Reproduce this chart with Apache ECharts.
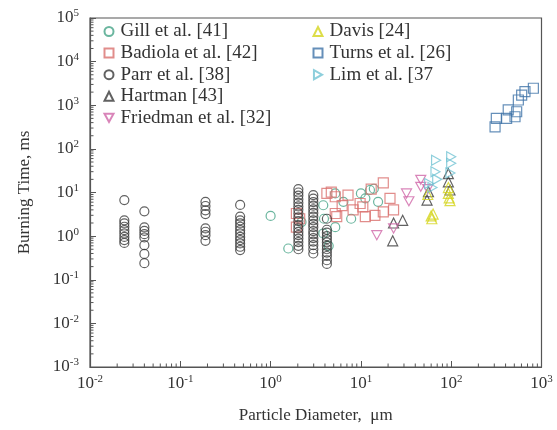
<!DOCTYPE html>
<html>
<head>
<meta charset="utf-8">
<script src="https://cdn.jsdelivr.net/npm/echarts@6/dist/echarts.min.js"></script>
<style>html,body{margin:0;padding:0;background:#fff}#c{width:557px;height:430px}</style>
</head>
<body>
<div id="c"></div>
<script>
// ---- data (particle diameter in um, burning time in ms) ----
const xExponents = [-2, -1, 0, 1, 2, 3];
const yExponents = [-3, -2, -1, 0, 1, 2, 3, 4, 5];
const seriesNames = ['Gill et al. [41]', 'Badiola et al. [42]', 'Parr et al. [38]', 'Hartman [43]', 'Friedman et al. [32]', 'Davis [24]', 'Turns et al. [26]', 'Lim et al. [37'];

const gill = [[1.0,2.9],[1.57,0.52],[2.2,2.1],[3.83,5.1],[3.9,2.5],[3.83,1.15],[5.2,9.5],[5.2,1.6],[6.4,6.1],[7.8,2.5],[10,9.5],[12.6,11.4],[13.9,12.2],[15.5,6.1],[11.2,7.3],[4.4,0.6]];
const badiola = [[1.93,3.3],[1.93,1.6],[2.1,2.5],[4.2,9.5],[4.7,10.2],[5.2,8.0],[5.2,3.3],[5.4,2.8],[7.2,8.7],[8.2,4.0],[9.8,5.6],[10.5,4.7],[11.2,2.8],[13,12],[14.3,3.0],[17.7,16.6],[17.7,3.6],[21,7.3],[23,4.0],[6.2,5.0]];
const parr = [
  [0.024,6.7],[0.024,2.3],[0.024,1.95],[0.024,1.64],[0.024,1.37],[0.024,1.15],[0.024,0.96],[0.024,0.81],[0.024,0.70],
  [0.04,3.7],[0.04,1.58],[0.04,1.32],[0.04,1.11],[0.04,0.93],[0.04,0.62],[0.04,0.39],[0.04,0.24],
  [0.19,6.1],[0.19,4.9],[0.19,3.9],[0.19,3.2],[0.19,1.5],[0.19,1.26],[0.19,1.05],[0.19,0.78],
  [0.46,5.2],[0.46,2.8],[0.46,2.3],[0.46,1.95],[0.46,1.64],[0.46,1.37],[0.46,1.15],[0.46,0.96],[0.46,0.81],[0.46,0.68],[0.46,0.57],[0.46,0.48],
  [2.03,12],[2.03,10],[2.03,8.5],[2.03,7],[2.03,5.8],[2.03,4.8],[2.03,4],[2.03,3.3],[2.03,2.7],[2.03,2.2],[2.03,1.8],[2.03,1.5],[2.03,1.25],[2.03,1.05],[2.03,0.88],[2.03,0.73],[2.03,0.6],[2.03,0.5],
  [2.97,8.7],[2.97,7.2],[2.97,6],[2.97,5],[2.97,4.1],[2.97,3.4],[2.97,2.8],[2.97,2.3],[2.97,1.9],[2.97,1.6],[2.97,1.3],[2.97,1.1],[2.97,0.9],[2.97,0.75],[2.97,0.62],[2.97,0.5],[2.97,0.4],
  [4.2,2.5],[4.2,1.4],[4.2,1.2],[4.2,1.0],[4.2,0.85],[4.2,0.72],[4.2,0.6],[4.2,0.5],[4.2,0.42],[4.2,0.35],[4.2,0.28],[4.2,0.23]
];
const hartman = [[22.5,0.78],[23,2.0],[29,2.3],[54,6.7],[56,10.4],[93,27],[93,17.6],[97,11.4]];
const friedman = [[15,1.05],[23,1.5],[32,9.5],[34,6.3],[46,19.5],[46,13.5],[55,12]];
const davis = [[60,2.9],[61,2.5],[63,3.2],[93,13],[93,9.5],[95,7.5],[97,6.5],[55,9]];
const turns = [[306,321],[316,500],[411,500],[428,780],[509,545],[531,710],[554,1320],[603,1715],[656,2050],[813,2450]];
const lim = [[68,55],[67,30],[70,20],[62,13],[100,66],[100,47],[98,28],[57,16]];

const colors = ['#46a487', '#d9706e', '#3a3a3a', '#3a3a3a', '#cf66a8', '#d4d41c', '#3e73a8', '#72c3d3'];
const symbols = ['circle', 'rect', 'circle', 'triangle', 'path://M0,0 L10,0 L5,9 Z', 'triangle', 'rect', 'path://M0,0 L9,5 L0,10 Z'];
const datasets = [gill, badiola, parr, hartman, friedman, davis, turns, lim];

// minor tick positions (2..9 x 10^k) for log axes
const multipliers = [2, 3, 4, 5, 6, 7, 8, 9];
const xMinor = [], yMinor = [];
for (let e = -2; e < 3; e++) multipliers.forEach(m => xMinor.push([m * Math.pow(10, e), 0.001]));
for (let e = -3; e < 5; e++) multipliers.forEach(m => yMinor.push([0.01, m * Math.pow(10, e)]));

const FONT = 'Liberation Serif';
const TXT = '#333';
const labelFmt = v => '{b|10}{s|' + Math.round(Math.log10(v)) + '}';
const rich = {
  b: { fontFamily: FONT, fontSize: 17, color: TXT },
  s: { fontFamily: FONT, fontSize: 11, color: TXT, verticalAlign: 'top', padding: [0, 0, 9, 0] }
};

const scatterSeries = datasets.map((d, i) => ({
  name: seriesNames[i],
  type: 'scatter',
  data: d,
  symbol: symbols[i],
  symbolSize: i === 2 || i === 0 ? 9 : 10,
  symbolKeepAspect: true,
  itemStyle: { color: 'rgba(0,0,0,0)', borderColor: colors[i], borderWidth: 1.2 },
  emphasis: { disabled: true },
  z: 3
}));

const minorSeries = [
  {
    type: 'custom', silent: true, data: xMinor, z: 2,
    renderItem: (params, api) => {
      const p = api.coord([api.value(0), api.value(1)]);
      return { type: 'line', shape: { x1: p[0], y1: p[1], x2: p[0], y2: p[1] - 3.5 }, style: { stroke: '#555', lineWidth: 1 } };
    }
  },
  {
    type: 'custom', silent: true, data: yMinor, z: 2,
    renderItem: (params, api) => {
      const p = api.coord([api.value(0), api.value(1)]);
      return { type: 'line', shape: { x1: p[0], y1: p[1], x2: p[0] + 3.5, y2: p[1] }, style: { stroke: '#555', lineWidth: 1 } };
    }
  }
];

const legendCommon = {
  orient: 'vertical', itemWidth: 9, itemHeight: 9, itemGap: 2.6,
  textStyle: { fontFamily: FONT, fontSize: 19, lineHeight: 19, color: TXT, padding: [0, 0, 0, 2] },
  selectedMode: false, padding: 0
};

const chart = echarts.init(document.getElementById('c'), null, { renderer: 'canvas' });
chart.setOption({
  animation: false,
  backgroundColor: '#fff',
  grid: { left: 90, right: 15.5, top: 18, bottom: 63, show: true, borderColor: '#555', borderWidth: 1.2, backgroundColor: 'transparent' },
  legend: [
    Object.assign({ data: seriesNames.slice(0, 5), left: 103.5, top: 22 }, legendCommon),
    Object.assign({ data: seriesNames.slice(5), left: 312.5, top: 22 }, legendCommon)
  ],
  xAxis: {
    type: 'log', logBase: 10, min: 0.01, max: 1000,
    name: 'Particle Diameter,  μm', nameLocation: 'middle', nameGap: 40,
    nameTextStyle: { fontFamily: FONT, fontSize: 17, color: TXT },
    axisLine: { show: true, lineStyle: { color: '#555', width: 1.2 } },
    axisTick: { show: true, inside: true, length: 6, lineStyle: { color: '#555' } },
    axisLabel: { formatter: labelFmt, rich: rich, margin: 7 },
    splitLine: { show: false }
  },
  yAxis: {
    type: 'log', logBase: 10, min: 0.001, max: 100000,
    name: 'Burning Time, ms', nameLocation: 'middle', nameGap: 57, nameRotate: 90,
    nameTextStyle: { fontFamily: FONT, fontSize: 17, color: TXT },
    axisLine: { show: true, lineStyle: { color: '#555', width: 1.2 } },
    axisTick: { show: true, inside: true, length: 6, lineStyle: { color: '#555' } },
    axisLabel: { formatter: labelFmt, rich: rich, margin: 11 },
    splitLine: { show: false }
  },
  series: minorSeries.concat(scatterSeries)
});
</script>
</body>
</html>
